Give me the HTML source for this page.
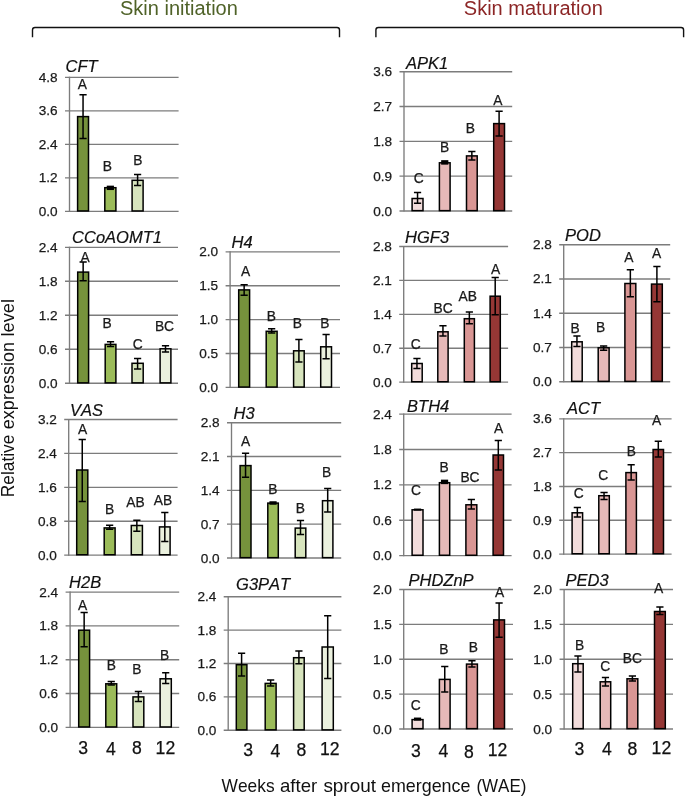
<!DOCTYPE html>
<html><head><meta charset="utf-8"><title>Figure</title>
<style>html,body{margin:0;padding:0;background:#fff;}svg{display:block;will-change:transform;}text{font-family:"Liberation Sans",sans-serif;font-kerning:none;}</style>
</head><body>
<svg width="685" height="796" viewBox="0 0 685 796">
<rect x="0" y="0" width="685" height="796" fill="#ffffff"/>
<text x="120.0" y="15.0" font-size="20" fill="#4F6228">Skin initiation</text>
<text x="463.8" y="15.0" font-size="20" fill="#8C2626">Skin maturation</text>
<path d="M32.5,37.35 L32.5,30.05 Q32.5,27.55 35.0,27.55 L337.0,27.55 Q339.5,27.55 339.5,30.05 L339.5,37.35" fill="none" stroke="#111" stroke-width="1.4"/>
<path d="M375.9,37.35 L375.9,30.05 Q375.9,27.55 378.4,27.55 L681.1,27.55 Q683.6,27.55 683.6,30.05 L683.6,37.35" fill="none" stroke="#111" stroke-width="1.4"/>
<g id="CFT">
<line x1="65.00" y1="77.30" x2="178.60" y2="77.30" stroke="#7c7c7c" stroke-width="1.35"/>
<text x="57.60" y="81.80" font-size="13.6" text-anchor="end" fill="#1a1a1a" stroke="#1a1a1a" stroke-width="0.25">4.8</text>
<line x1="65.00" y1="110.80" x2="178.60" y2="110.80" stroke="#7c7c7c" stroke-width="1.35"/>
<text x="57.60" y="115.30" font-size="13.6" text-anchor="end" fill="#1a1a1a" stroke="#1a1a1a" stroke-width="0.25">3.6</text>
<line x1="65.00" y1="144.30" x2="178.60" y2="144.30" stroke="#7c7c7c" stroke-width="1.35"/>
<text x="57.60" y="148.80" font-size="13.6" text-anchor="end" fill="#1a1a1a" stroke="#1a1a1a" stroke-width="0.25">2.4</text>
<line x1="65.00" y1="177.80" x2="178.60" y2="177.80" stroke="#7c7c7c" stroke-width="1.35"/>
<text x="57.60" y="182.30" font-size="13.6" text-anchor="end" fill="#1a1a1a" stroke="#1a1a1a" stroke-width="0.25">1.2</text>
<line x1="65.00" y1="211.30" x2="178.60" y2="211.30" stroke="#7c7c7c" stroke-width="1.35"/>
<text x="57.60" y="215.80" font-size="13.6" text-anchor="end" fill="#1a1a1a" stroke="#1a1a1a" stroke-width="0.25">0.0</text>
<line x1="69.50" y1="76.70" x2="69.50" y2="211.90" stroke="#7c7c7c" stroke-width="1.35"/>
<text x="65.50" y="71.50" font-size="16.5" font-style="italic" fill="#111" stroke="#111" stroke-width="0.2">CFT</text>
<rect x="77.60" y="116.60" width="10.90" height="94.35" fill="#76923C" stroke="#000" stroke-width="1.5"/>
<path d="M83.05,94.70 L83.05,138.50 M79.45,94.70 L86.65,94.70 M79.45,138.50 L86.65,138.50" stroke="#000" stroke-width="1.5" fill="none"/>
<rect x="104.80" y="187.70" width="11.10" height="23.25" fill="#9BBB59" stroke="#000" stroke-width="1.5"/>
<rect x="106.75" y="185.65" width="7.2" height="4.40" fill="#000"/>
<rect x="132.10" y="180.30" width="11.00" height="30.65" fill="#D7E4BD" stroke="#000" stroke-width="1.5"/>
<path d="M137.60,174.50 L137.60,185.50 M134.00,174.50 L141.20,174.50 M134.00,185.50 L141.20,185.50" stroke="#000" stroke-width="1.5" fill="none"/>
<text x="82.30" y="89.30" font-size="13.8" text-anchor="middle" fill="#1a1a1a" stroke="#1a1a1a" stroke-width="0.25">A</text>
<text x="107.40" y="171.30" font-size="13.8" text-anchor="middle" fill="#1a1a1a" stroke="#1a1a1a" stroke-width="0.25">B</text>
<text x="137.80" y="165.00" font-size="13.8" text-anchor="middle" fill="#1a1a1a" stroke="#1a1a1a" stroke-width="0.25">B</text>
</g>
<g id="CCoAOMT1">
<line x1="65.00" y1="247.30" x2="178.00" y2="247.30" stroke="#7c7c7c" stroke-width="1.35"/>
<text x="57.60" y="251.80" font-size="13.6" text-anchor="end" fill="#1a1a1a" stroke="#1a1a1a" stroke-width="0.25">2.4</text>
<line x1="65.00" y1="281.27" x2="178.00" y2="281.27" stroke="#7c7c7c" stroke-width="1.35"/>
<text x="57.60" y="285.77" font-size="13.6" text-anchor="end" fill="#1a1a1a" stroke="#1a1a1a" stroke-width="0.25">1.8</text>
<line x1="65.00" y1="315.25" x2="178.00" y2="315.25" stroke="#7c7c7c" stroke-width="1.35"/>
<text x="57.60" y="319.75" font-size="13.6" text-anchor="end" fill="#1a1a1a" stroke="#1a1a1a" stroke-width="0.25">1.2</text>
<line x1="65.00" y1="349.23" x2="178.00" y2="349.23" stroke="#7c7c7c" stroke-width="1.35"/>
<text x="57.60" y="353.73" font-size="13.6" text-anchor="end" fill="#1a1a1a" stroke="#1a1a1a" stroke-width="0.25">0.6</text>
<line x1="65.00" y1="383.20" x2="178.00" y2="383.20" stroke="#7c7c7c" stroke-width="1.35"/>
<text x="57.60" y="387.70" font-size="13.6" text-anchor="end" fill="#1a1a1a" stroke="#1a1a1a" stroke-width="0.25">0.0</text>
<line x1="69.50" y1="246.70" x2="69.50" y2="383.80" stroke="#7c7c7c" stroke-width="1.35"/>
<text x="72.10" y="243.10" font-size="16.5" font-style="italic" fill="#111" stroke="#111" stroke-width="0.2">CCoAOMT1</text>
<rect x="77.70" y="272.10" width="10.90" height="110.75" fill="#76923C" stroke="#000" stroke-width="1.5"/>
<path d="M83.15,262.10 L83.15,280.80 M79.55,262.10 L86.75,262.10 M79.55,280.80 L86.75,280.80" stroke="#000" stroke-width="1.5" fill="none"/>
<rect x="105.20" y="344.40" width="10.70" height="38.45" fill="#9BBB59" stroke="#000" stroke-width="1.5"/>
<path d="M110.55,341.70 L110.55,346.50 M106.95,341.70 L114.15,341.70 M106.95,346.50 L114.15,346.50" stroke="#000" stroke-width="1.5" fill="none"/>
<rect x="132.00" y="363.30" width="11.20" height="19.55" fill="#D7E4BD" stroke="#000" stroke-width="1.5"/>
<path d="M137.60,358.60 L137.60,369.00 M134.00,358.60 L141.20,358.60 M134.00,369.00 L141.20,369.00" stroke="#000" stroke-width="1.5" fill="none"/>
<rect x="160.10" y="348.80" width="10.80" height="34.05" fill="#EBF1DE" stroke="#000" stroke-width="1.5"/>
<path d="M165.50,345.70 L165.50,352.00 M161.90,345.70 L169.10,345.70 M161.90,352.00 L169.10,352.00" stroke="#000" stroke-width="1.5" fill="none"/>
<text x="85.10" y="262.10" font-size="13.8" text-anchor="middle" fill="#1a1a1a" stroke="#1a1a1a" stroke-width="0.25">A</text>
<text x="107.20" y="327.80" font-size="13.8" text-anchor="middle" fill="#1a1a1a" stroke="#1a1a1a" stroke-width="0.25">B</text>
<text x="137.80" y="348.90" font-size="13.8" text-anchor="middle" fill="#1a1a1a" stroke="#1a1a1a" stroke-width="0.25">C</text>
<text x="164.50" y="330.90" font-size="13.8" text-anchor="middle" fill="#1a1a1a" stroke="#1a1a1a" stroke-width="0.25">BC</text>
</g>
<g id="VAS">
<line x1="64.20" y1="419.50" x2="177.60" y2="419.50" stroke="#7c7c7c" stroke-width="1.35"/>
<text x="56.80" y="424.00" font-size="13.6" text-anchor="end" fill="#1a1a1a" stroke="#1a1a1a" stroke-width="0.25">3.2</text>
<line x1="64.20" y1="453.40" x2="177.60" y2="453.40" stroke="#7c7c7c" stroke-width="1.35"/>
<text x="56.80" y="457.90" font-size="13.6" text-anchor="end" fill="#1a1a1a" stroke="#1a1a1a" stroke-width="0.25">2.4</text>
<line x1="64.20" y1="487.30" x2="177.60" y2="487.30" stroke="#7c7c7c" stroke-width="1.35"/>
<text x="56.80" y="491.80" font-size="13.6" text-anchor="end" fill="#1a1a1a" stroke="#1a1a1a" stroke-width="0.25">1.6</text>
<line x1="64.20" y1="521.20" x2="177.60" y2="521.20" stroke="#7c7c7c" stroke-width="1.35"/>
<text x="56.80" y="525.70" font-size="13.6" text-anchor="end" fill="#1a1a1a" stroke="#1a1a1a" stroke-width="0.25">0.8</text>
<line x1="64.20" y1="555.10" x2="177.60" y2="555.10" stroke="#7c7c7c" stroke-width="1.35"/>
<text x="56.80" y="559.60" font-size="13.6" text-anchor="end" fill="#1a1a1a" stroke="#1a1a1a" stroke-width="0.25">0.0</text>
<line x1="68.70" y1="418.90" x2="68.70" y2="555.70" stroke="#7c7c7c" stroke-width="1.35"/>
<text x="70.10" y="415.70" font-size="16.5" font-style="italic" fill="#111" stroke="#111" stroke-width="0.2">VAS</text>
<rect x="76.70" y="470.00" width="11.10" height="84.75" fill="#76923C" stroke="#000" stroke-width="1.5"/>
<path d="M82.25,439.60 L82.25,501.40 M78.65,439.60 L85.85,439.60 M78.65,501.40 L85.85,501.40" stroke="#000" stroke-width="1.5" fill="none"/>
<rect x="104.20" y="527.90" width="10.90" height="26.85" fill="#9BBB59" stroke="#000" stroke-width="1.5"/>
<path d="M109.65,525.20 L109.65,529.20 M106.05,525.20 L113.25,525.20 M106.05,529.20 L113.25,529.20" stroke="#000" stroke-width="1.5" fill="none"/>
<rect x="131.30" y="525.50" width="11.10" height="29.25" fill="#D7E4BD" stroke="#000" stroke-width="1.5"/>
<path d="M136.85,520.30 L136.85,531.20 M133.25,520.30 L140.45,520.30 M133.25,531.20 L140.45,531.20" stroke="#000" stroke-width="1.5" fill="none"/>
<rect x="159.50" y="526.90" width="10.60" height="27.85" fill="#EBF1DE" stroke="#000" stroke-width="1.5"/>
<path d="M164.80,512.50 L164.80,541.60 M161.20,512.50 L168.40,512.50 M161.20,541.60 L168.40,541.60" stroke="#000" stroke-width="1.5" fill="none"/>
<text x="82.50" y="434.10" font-size="13.8" text-anchor="middle" fill="#1a1a1a" stroke="#1a1a1a" stroke-width="0.25">A</text>
<text x="109.70" y="513.50" font-size="13.8" text-anchor="middle" fill="#1a1a1a" stroke="#1a1a1a" stroke-width="0.25">B</text>
<text x="135.40" y="506.90" font-size="13.8" text-anchor="middle" fill="#1a1a1a" stroke="#1a1a1a" stroke-width="0.25">AB</text>
<text x="162.90" y="505.30" font-size="13.8" text-anchor="middle" fill="#1a1a1a" stroke="#1a1a1a" stroke-width="0.25">AB</text>
</g>
<g id="H2B">
<line x1="65.60" y1="592.10" x2="179.20" y2="592.10" stroke="#7c7c7c" stroke-width="1.35"/>
<text x="58.20" y="596.60" font-size="13.6" text-anchor="end" fill="#1a1a1a" stroke="#1a1a1a" stroke-width="0.25">2.4</text>
<line x1="65.60" y1="625.90" x2="179.20" y2="625.90" stroke="#7c7c7c" stroke-width="1.35"/>
<text x="58.20" y="630.40" font-size="13.6" text-anchor="end" fill="#1a1a1a" stroke="#1a1a1a" stroke-width="0.25">1.8</text>
<line x1="65.60" y1="659.70" x2="179.20" y2="659.70" stroke="#7c7c7c" stroke-width="1.35"/>
<text x="58.20" y="664.20" font-size="13.6" text-anchor="end" fill="#1a1a1a" stroke="#1a1a1a" stroke-width="0.25">1.2</text>
<line x1="65.60" y1="693.50" x2="179.20" y2="693.50" stroke="#7c7c7c" stroke-width="1.35"/>
<text x="58.20" y="698.00" font-size="13.6" text-anchor="end" fill="#1a1a1a" stroke="#1a1a1a" stroke-width="0.25">0.6</text>
<line x1="65.60" y1="727.30" x2="179.20" y2="727.30" stroke="#7c7c7c" stroke-width="1.35"/>
<text x="58.20" y="731.80" font-size="13.6" text-anchor="end" fill="#1a1a1a" stroke="#1a1a1a" stroke-width="0.25">0.0</text>
<line x1="70.10" y1="591.50" x2="70.10" y2="727.90" stroke="#7c7c7c" stroke-width="1.35"/>
<text x="69.10" y="588.20" font-size="16.5" font-style="italic" fill="#111" stroke="#111" stroke-width="0.2">H2B</text>
<rect x="78.70" y="630.20" width="10.90" height="96.75" fill="#76923C" stroke="#000" stroke-width="1.5"/>
<path d="M84.15,612.60 L84.15,646.70 M80.55,612.60 L87.75,612.60 M80.55,646.70 L87.75,646.70" stroke="#000" stroke-width="1.5" fill="none"/>
<rect x="105.80" y="683.80" width="10.90" height="43.15" fill="#9BBB59" stroke="#000" stroke-width="1.5"/>
<path d="M111.25,681.50 L111.25,685.10 M107.65,681.50 L114.85,681.50 M107.65,685.10 L114.85,685.10" stroke="#000" stroke-width="1.5" fill="none"/>
<rect x="133.00" y="696.90" width="10.80" height="30.05" fill="#D7E4BD" stroke="#000" stroke-width="1.5"/>
<path d="M138.40,691.50 L138.40,701.60 M134.80,691.50 L142.00,691.50 M134.80,701.60 L142.00,701.60" stroke="#000" stroke-width="1.5" fill="none"/>
<rect x="160.10" y="678.80" width="11.20" height="48.15" fill="#EBF1DE" stroke="#000" stroke-width="1.5"/>
<path d="M165.70,672.80 L165.70,683.50 M162.10,672.80 L169.30,672.80 M162.10,683.50 L169.30,683.50" stroke="#000" stroke-width="1.5" fill="none"/>
<text x="82.50" y="610.00" font-size="13.8" text-anchor="middle" fill="#1a1a1a" stroke="#1a1a1a" stroke-width="0.25">A</text>
<text x="111.30" y="669.80" font-size="13.8" text-anchor="middle" fill="#1a1a1a" stroke="#1a1a1a" stroke-width="0.25">B</text>
<text x="136.80" y="674.40" font-size="13.8" text-anchor="middle" fill="#1a1a1a" stroke="#1a1a1a" stroke-width="0.25">B</text>
<text x="164.50" y="659.80" font-size="13.8" text-anchor="middle" fill="#1a1a1a" stroke="#1a1a1a" stroke-width="0.25">B</text>
</g>
<g id="H4">
<line x1="225.60" y1="251.90" x2="340.00" y2="251.90" stroke="#7c7c7c" stroke-width="1.35"/>
<text x="218.20" y="256.40" font-size="13.6" text-anchor="end" fill="#1a1a1a" stroke="#1a1a1a" stroke-width="0.25">2.0</text>
<line x1="225.60" y1="285.77" x2="340.00" y2="285.77" stroke="#7c7c7c" stroke-width="1.35"/>
<text x="218.20" y="290.27" font-size="13.6" text-anchor="end" fill="#1a1a1a" stroke="#1a1a1a" stroke-width="0.25">1.5</text>
<line x1="225.60" y1="319.65" x2="340.00" y2="319.65" stroke="#7c7c7c" stroke-width="1.35"/>
<text x="218.20" y="324.15" font-size="13.6" text-anchor="end" fill="#1a1a1a" stroke="#1a1a1a" stroke-width="0.25">1.0</text>
<line x1="225.60" y1="353.52" x2="340.00" y2="353.52" stroke="#7c7c7c" stroke-width="1.35"/>
<text x="218.20" y="358.02" font-size="13.6" text-anchor="end" fill="#1a1a1a" stroke="#1a1a1a" stroke-width="0.25">0.5</text>
<line x1="225.60" y1="387.40" x2="340.00" y2="387.40" stroke="#7c7c7c" stroke-width="1.35"/>
<text x="218.20" y="391.90" font-size="13.6" text-anchor="end" fill="#1a1a1a" stroke="#1a1a1a" stroke-width="0.25">0.0</text>
<line x1="230.10" y1="251.30" x2="230.10" y2="388.00" stroke="#7c7c7c" stroke-width="1.35"/>
<text x="231.50" y="248.10" font-size="16.5" font-style="italic" fill="#111" stroke="#111" stroke-width="0.2">H4</text>
<rect x="238.70" y="289.90" width="10.90" height="97.15" fill="#76923C" stroke="#000" stroke-width="1.5"/>
<path d="M244.15,284.80 L244.15,295.30 M240.55,284.80 L247.75,284.80 M240.55,295.30 L247.75,295.30" stroke="#000" stroke-width="1.5" fill="none"/>
<rect x="266.20" y="331.30" width="10.90" height="55.75" fill="#9BBB59" stroke="#000" stroke-width="1.5"/>
<path d="M271.65,328.80 L271.65,333.00 M268.05,328.80 L275.25,328.80 M268.05,333.00 L275.25,333.00" stroke="#000" stroke-width="1.5" fill="none"/>
<rect x="293.60" y="350.80" width="10.60" height="36.25" fill="#D7E4BD" stroke="#000" stroke-width="1.5"/>
<path d="M298.90,339.50 L298.90,362.00 M295.30,339.50 L302.50,339.50 M295.30,362.00 L302.50,362.00" stroke="#000" stroke-width="1.5" fill="none"/>
<rect x="320.70" y="346.80" width="10.80" height="40.25" fill="#EBF1DE" stroke="#000" stroke-width="1.5"/>
<path d="M326.10,334.60 L326.10,358.80 M322.50,334.60 L329.70,334.60 M322.50,358.80 L329.70,358.80" stroke="#000" stroke-width="1.5" fill="none"/>
<text x="245.50" y="275.60" font-size="13.8" text-anchor="middle" fill="#1a1a1a" stroke="#1a1a1a" stroke-width="0.25">A</text>
<text x="271.30" y="320.80" font-size="13.8" text-anchor="middle" fill="#1a1a1a" stroke="#1a1a1a" stroke-width="0.25">B</text>
<text x="297.40" y="328.20" font-size="13.8" text-anchor="middle" fill="#1a1a1a" stroke="#1a1a1a" stroke-width="0.25">B</text>
<text x="324.90" y="328.20" font-size="13.8" text-anchor="middle" fill="#1a1a1a" stroke="#1a1a1a" stroke-width="0.25">B</text>
</g>
<g id="H3">
<line x1="227.00" y1="422.70" x2="341.20" y2="422.70" stroke="#7c7c7c" stroke-width="1.35"/>
<text x="219.60" y="427.20" font-size="13.6" text-anchor="end" fill="#1a1a1a" stroke="#1a1a1a" stroke-width="0.25">2.8</text>
<line x1="227.00" y1="456.52" x2="341.20" y2="456.52" stroke="#7c7c7c" stroke-width="1.35"/>
<text x="219.60" y="461.02" font-size="13.6" text-anchor="end" fill="#1a1a1a" stroke="#1a1a1a" stroke-width="0.25">2.1</text>
<line x1="227.00" y1="490.35" x2="341.20" y2="490.35" stroke="#7c7c7c" stroke-width="1.35"/>
<text x="219.60" y="494.85" font-size="13.6" text-anchor="end" fill="#1a1a1a" stroke="#1a1a1a" stroke-width="0.25">1.4</text>
<line x1="227.00" y1="524.17" x2="341.20" y2="524.17" stroke="#7c7c7c" stroke-width="1.35"/>
<text x="219.60" y="528.67" font-size="13.6" text-anchor="end" fill="#1a1a1a" stroke="#1a1a1a" stroke-width="0.25">0.7</text>
<line x1="227.00" y1="558.00" x2="341.20" y2="558.00" stroke="#7c7c7c" stroke-width="1.35"/>
<text x="219.60" y="562.50" font-size="13.6" text-anchor="end" fill="#1a1a1a" stroke="#1a1a1a" stroke-width="0.25">0.0</text>
<line x1="231.50" y1="422.10" x2="231.50" y2="558.60" stroke="#7c7c7c" stroke-width="1.35"/>
<text x="233.50" y="418.70" font-size="16.5" font-style="italic" fill="#111" stroke="#111" stroke-width="0.2">H3</text>
<rect x="240.10" y="465.60" width="10.90" height="92.05" fill="#76923C" stroke="#000" stroke-width="1.5"/>
<path d="M245.55,453.20 L245.55,477.30 M241.95,453.20 L249.15,453.20 M241.95,477.30 L249.15,477.30" stroke="#000" stroke-width="1.5" fill="none"/>
<rect x="267.80" y="503.10" width="10.50" height="54.55" fill="#9BBB59" stroke="#000" stroke-width="1.5"/>
<rect x="269.45" y="501.25" width="7.2" height="3.50" fill="#000"/>
<rect x="295.20" y="528.10" width="10.60" height="29.55" fill="#D7E4BD" stroke="#000" stroke-width="1.5"/>
<path d="M300.50,520.50 L300.50,534.60 M296.90,520.50 L304.10,520.50 M296.90,534.60 L304.10,534.60" stroke="#000" stroke-width="1.5" fill="none"/>
<rect x="322.50" y="500.70" width="10.40" height="56.95" fill="#EBF1DE" stroke="#000" stroke-width="1.5"/>
<path d="M327.70,488.40 L327.70,512.10 M324.10,488.40 L331.30,488.40 M324.10,512.10 L331.30,512.10" stroke="#000" stroke-width="1.5" fill="none"/>
<text x="245.50" y="446.20" font-size="13.8" text-anchor="middle" fill="#1a1a1a" stroke="#1a1a1a" stroke-width="0.25">A</text>
<text x="272.90" y="493.80" font-size="13.8" text-anchor="middle" fill="#1a1a1a" stroke="#1a1a1a" stroke-width="0.25">B</text>
<text x="300.40" y="513.30" font-size="13.8" text-anchor="middle" fill="#1a1a1a" stroke="#1a1a1a" stroke-width="0.25">B</text>
<text x="326.50" y="477.30" font-size="13.8" text-anchor="middle" fill="#1a1a1a" stroke="#1a1a1a" stroke-width="0.25">B</text>
</g>
<g id="G3PAT">
<line x1="223.70" y1="596.70" x2="341.40" y2="596.70" stroke="#7c7c7c" stroke-width="1.35"/>
<text x="216.30" y="601.20" font-size="13.6" text-anchor="end" fill="#1a1a1a" stroke="#1a1a1a" stroke-width="0.25">2.4</text>
<line x1="223.70" y1="630.08" x2="341.40" y2="630.08" stroke="#7c7c7c" stroke-width="1.35"/>
<text x="216.30" y="634.58" font-size="13.6" text-anchor="end" fill="#1a1a1a" stroke="#1a1a1a" stroke-width="0.25">1.8</text>
<line x1="223.70" y1="663.45" x2="341.40" y2="663.45" stroke="#7c7c7c" stroke-width="1.35"/>
<text x="216.30" y="667.95" font-size="13.6" text-anchor="end" fill="#1a1a1a" stroke="#1a1a1a" stroke-width="0.25">1.2</text>
<line x1="223.70" y1="696.83" x2="341.40" y2="696.83" stroke="#7c7c7c" stroke-width="1.35"/>
<text x="216.30" y="701.33" font-size="13.6" text-anchor="end" fill="#1a1a1a" stroke="#1a1a1a" stroke-width="0.25">0.6</text>
<line x1="223.70" y1="730.20" x2="341.40" y2="730.20" stroke="#7c7c7c" stroke-width="1.35"/>
<text x="216.30" y="734.70" font-size="13.6" text-anchor="end" fill="#1a1a1a" stroke="#1a1a1a" stroke-width="0.25">0.0</text>
<line x1="228.20" y1="596.10" x2="228.20" y2="730.80" stroke="#7c7c7c" stroke-width="1.35"/>
<text x="236.10" y="590.30" font-size="16.5" font-style="italic" fill="#111" stroke="#111" stroke-width="0.2">G3PAT</text>
<rect x="236.30" y="664.70" width="10.60" height="65.15" fill="#76923C" stroke="#000" stroke-width="1.5"/>
<path d="M241.60,653.30 L241.60,676.00 M238.00,653.30 L245.20,653.30 M238.00,676.00 L245.20,676.00" stroke="#000" stroke-width="1.5" fill="none"/>
<rect x="265.20" y="683.40" width="10.90" height="46.45" fill="#9BBB59" stroke="#000" stroke-width="1.5"/>
<path d="M270.65,679.90 L270.65,686.10 M267.05,679.90 L274.25,679.90 M267.05,686.10 L274.25,686.10" stroke="#000" stroke-width="1.5" fill="none"/>
<rect x="293.60" y="657.70" width="10.60" height="72.15" fill="#D7E4BD" stroke="#000" stroke-width="1.5"/>
<path d="M298.90,650.90 L298.90,663.80 M295.30,650.90 L302.50,650.90 M295.30,663.80 L302.50,663.80" stroke="#000" stroke-width="1.5" fill="none"/>
<rect x="322.10" y="647.00" width="11.20" height="82.85" fill="#EBF1DE" stroke="#000" stroke-width="1.5"/>
<path d="M327.70,615.80 L327.70,678.50 M324.10,615.80 L331.30,615.80 M324.10,678.50 L331.30,678.50" stroke="#000" stroke-width="1.5" fill="none"/>
</g>
<g id="APK1">
<line x1="399.50" y1="71.70" x2="512.20" y2="71.70" stroke="#7c7c7c" stroke-width="1.35"/>
<text x="392.10" y="76.20" font-size="13.6" text-anchor="end" fill="#1a1a1a" stroke="#1a1a1a" stroke-width="0.25">3.6</text>
<line x1="399.50" y1="106.53" x2="512.20" y2="106.53" stroke="#7c7c7c" stroke-width="1.35"/>
<text x="392.10" y="111.03" font-size="13.6" text-anchor="end" fill="#1a1a1a" stroke="#1a1a1a" stroke-width="0.25">2.7</text>
<line x1="399.50" y1="141.35" x2="512.20" y2="141.35" stroke="#7c7c7c" stroke-width="1.35"/>
<text x="392.10" y="145.85" font-size="13.6" text-anchor="end" fill="#1a1a1a" stroke="#1a1a1a" stroke-width="0.25">1.8</text>
<line x1="399.50" y1="176.18" x2="512.20" y2="176.18" stroke="#7c7c7c" stroke-width="1.35"/>
<text x="392.10" y="180.68" font-size="13.6" text-anchor="end" fill="#1a1a1a" stroke="#1a1a1a" stroke-width="0.25">0.9</text>
<line x1="399.50" y1="211.00" x2="512.20" y2="211.00" stroke="#7c7c7c" stroke-width="1.35"/>
<text x="392.10" y="215.50" font-size="13.6" text-anchor="end" fill="#1a1a1a" stroke="#1a1a1a" stroke-width="0.25">0.0</text>
<line x1="404.00" y1="71.10" x2="404.00" y2="211.60" stroke="#7c7c7c" stroke-width="1.35"/>
<text x="406.10" y="69.00" font-size="16.5" font-style="italic" fill="#111" stroke="#111" stroke-width="0.2">APK1</text>
<rect x="412.10" y="198.50" width="10.90" height="12.15" fill="#F2DCDB" stroke="#000" stroke-width="1.5"/>
<path d="M417.55,192.60 L417.55,203.30 M413.95,192.60 L421.15,192.60 M413.95,203.30 L421.15,203.30" stroke="#000" stroke-width="1.5" fill="none"/>
<rect x="439.40" y="162.80" width="10.70" height="47.85" fill="#E6B9B8" stroke="#000" stroke-width="1.5"/>
<rect x="441.15" y="160.15" width="7.2" height="4.50" fill="#000"/>
<rect x="466.50" y="155.90" width="10.70" height="54.75" fill="#D99694" stroke="#000" stroke-width="1.5"/>
<path d="M471.85,151.60 L471.85,160.10 M468.25,151.60 L475.45,151.60 M468.25,160.10 L475.45,160.10" stroke="#000" stroke-width="1.5" fill="none"/>
<rect x="493.70" y="123.60" width="10.80" height="87.05" fill="#953735" stroke="#000" stroke-width="1.5"/>
<path d="M499.10,111.20 L499.10,135.90 M495.50,111.20 L502.70,111.20 M495.50,135.90 L502.70,135.90" stroke="#000" stroke-width="1.5" fill="none"/>
<text x="418.70" y="183.00" font-size="13.8" text-anchor="middle" fill="#1a1a1a" stroke="#1a1a1a" stroke-width="0.25">C</text>
<text x="444.70" y="151.80" font-size="13.8" text-anchor="middle" fill="#1a1a1a" stroke="#1a1a1a" stroke-width="0.25">B</text>
<text x="470.40" y="133.10" font-size="13.8" text-anchor="middle" fill="#1a1a1a" stroke="#1a1a1a" stroke-width="0.25">B</text>
<text x="497.90" y="104.60" font-size="13.8" text-anchor="middle" fill="#1a1a1a" stroke="#1a1a1a" stroke-width="0.25">A</text>
</g>
<g id="HGF3">
<line x1="399.20" y1="246.50" x2="508.10" y2="246.50" stroke="#7c7c7c" stroke-width="1.35"/>
<text x="391.80" y="251.00" font-size="13.6" text-anchor="end" fill="#1a1a1a" stroke="#1a1a1a" stroke-width="0.25">2.8</text>
<line x1="399.20" y1="280.40" x2="508.10" y2="280.40" stroke="#7c7c7c" stroke-width="1.35"/>
<text x="391.80" y="284.90" font-size="13.6" text-anchor="end" fill="#1a1a1a" stroke="#1a1a1a" stroke-width="0.25">2.1</text>
<line x1="399.20" y1="314.30" x2="508.10" y2="314.30" stroke="#7c7c7c" stroke-width="1.35"/>
<text x="391.80" y="318.80" font-size="13.6" text-anchor="end" fill="#1a1a1a" stroke="#1a1a1a" stroke-width="0.25">1.4</text>
<line x1="399.20" y1="348.20" x2="508.10" y2="348.20" stroke="#7c7c7c" stroke-width="1.35"/>
<text x="391.80" y="352.70" font-size="13.6" text-anchor="end" fill="#1a1a1a" stroke="#1a1a1a" stroke-width="0.25">0.7</text>
<line x1="399.20" y1="382.10" x2="508.10" y2="382.10" stroke="#7c7c7c" stroke-width="1.35"/>
<text x="391.80" y="386.60" font-size="13.6" text-anchor="end" fill="#1a1a1a" stroke="#1a1a1a" stroke-width="0.25">0.0</text>
<line x1="403.70" y1="245.90" x2="403.70" y2="382.70" stroke="#7c7c7c" stroke-width="1.35"/>
<text x="405.10" y="243.20" font-size="16.5" font-style="italic" fill="#111" stroke="#111" stroke-width="0.2">HGF3</text>
<rect x="411.70" y="363.50" width="10.50" height="18.25" fill="#F2DCDB" stroke="#000" stroke-width="1.5"/>
<path d="M416.95,358.60 L416.95,368.60 M413.35,358.60 L420.55,358.60 M413.35,368.60 L420.55,368.60" stroke="#000" stroke-width="1.5" fill="none"/>
<rect x="437.80" y="331.80" width="10.30" height="49.95" fill="#E6B9B8" stroke="#000" stroke-width="1.5"/>
<path d="M442.95,325.80 L442.95,335.90 M439.35,325.80 L446.55,325.80 M439.35,335.90 L446.55,335.90" stroke="#000" stroke-width="1.5" fill="none"/>
<rect x="464.30" y="318.70" width="10.10" height="63.05" fill="#D99694" stroke="#000" stroke-width="1.5"/>
<path d="M469.35,312.00 L469.35,323.80 M465.75,312.00 L472.95,312.00 M465.75,323.80 L472.95,323.80" stroke="#000" stroke-width="1.5" fill="none"/>
<rect x="490.10" y="296.20" width="10.20" height="85.55" fill="#953735" stroke="#000" stroke-width="1.5"/>
<path d="M495.20,277.60 L495.20,314.80 M491.60,277.60 L498.80,277.60 M491.60,314.80 L498.80,314.80" stroke="#000" stroke-width="1.5" fill="none"/>
<text x="415.70" y="348.50" font-size="13.8" text-anchor="middle" fill="#1a1a1a" stroke="#1a1a1a" stroke-width="0.25">C</text>
<text x="443.20" y="313.20" font-size="13.8" text-anchor="middle" fill="#1a1a1a" stroke="#1a1a1a" stroke-width="0.25">BC</text>
<text x="467.80" y="301.10" font-size="13.8" text-anchor="middle" fill="#1a1a1a" stroke="#1a1a1a" stroke-width="0.25">AB</text>
<text x="495.50" y="273.60" font-size="13.8" text-anchor="middle" fill="#1a1a1a" stroke="#1a1a1a" stroke-width="0.25">A</text>
</g>
<g id="BTH4">
<line x1="399.20" y1="414.10" x2="511.60" y2="414.10" stroke="#7c7c7c" stroke-width="1.35"/>
<text x="391.80" y="418.60" font-size="13.6" text-anchor="end" fill="#1a1a1a" stroke="#1a1a1a" stroke-width="0.25">2.4</text>
<line x1="399.20" y1="449.48" x2="511.60" y2="449.48" stroke="#7c7c7c" stroke-width="1.35"/>
<text x="391.80" y="453.98" font-size="13.6" text-anchor="end" fill="#1a1a1a" stroke="#1a1a1a" stroke-width="0.25">1.8</text>
<line x1="399.20" y1="484.85" x2="511.60" y2="484.85" stroke="#7c7c7c" stroke-width="1.35"/>
<text x="391.80" y="489.35" font-size="13.6" text-anchor="end" fill="#1a1a1a" stroke="#1a1a1a" stroke-width="0.25">1.2</text>
<line x1="399.20" y1="520.23" x2="511.60" y2="520.23" stroke="#7c7c7c" stroke-width="1.35"/>
<text x="391.80" y="524.73" font-size="13.6" text-anchor="end" fill="#1a1a1a" stroke="#1a1a1a" stroke-width="0.25">0.6</text>
<line x1="399.20" y1="555.60" x2="511.60" y2="555.60" stroke="#7c7c7c" stroke-width="1.35"/>
<text x="391.80" y="560.10" font-size="13.6" text-anchor="end" fill="#1a1a1a" stroke="#1a1a1a" stroke-width="0.25">0.0</text>
<line x1="403.70" y1="413.50" x2="403.70" y2="556.20" stroke="#7c7c7c" stroke-width="1.35"/>
<text x="407.10" y="411.80" font-size="16.5" font-style="italic" fill="#111" stroke="#111" stroke-width="0.2">BTH4</text>
<rect x="412.10" y="509.80" width="10.90" height="45.45" fill="#F2DCDB" stroke="#000" stroke-width="1.5"/>
<rect x="413.95" y="508.55" width="7.2" height="2.10" fill="#000"/>
<rect x="439.40" y="482.70" width="10.30" height="72.55" fill="#E6B9B8" stroke="#000" stroke-width="1.5"/>
<rect x="440.95" y="479.65" width="7.2" height="4.50" fill="#000"/>
<rect x="465.90" y="504.80" width="10.90" height="50.45" fill="#D99694" stroke="#000" stroke-width="1.5"/>
<path d="M471.35,499.50 L471.35,509.10 M467.75,499.50 L474.95,499.50 M467.75,509.10 L474.95,509.10" stroke="#000" stroke-width="1.5" fill="none"/>
<rect x="493.10" y="455.00" width="10.40" height="100.25" fill="#953735" stroke="#000" stroke-width="1.5"/>
<path d="M498.30,440.60 L498.30,469.90 M494.70,440.60 L501.90,440.60 M494.70,469.90 L501.90,469.90" stroke="#000" stroke-width="1.5" fill="none"/>
<text x="416.10" y="494.80" font-size="13.8" text-anchor="middle" fill="#1a1a1a" stroke="#1a1a1a" stroke-width="0.25">C</text>
<text x="444.20" y="471.70" font-size="13.8" text-anchor="middle" fill="#1a1a1a" stroke="#1a1a1a" stroke-width="0.25">B</text>
<text x="470.00" y="482.40" font-size="13.8" text-anchor="middle" fill="#1a1a1a" stroke="#1a1a1a" stroke-width="0.25">BC</text>
<text x="498.50" y="432.50" font-size="13.8" text-anchor="middle" fill="#1a1a1a" stroke="#1a1a1a" stroke-width="0.25">A</text>
</g>
<g id="PHDZnP">
<line x1="399.20" y1="589.50" x2="513.00" y2="589.50" stroke="#7c7c7c" stroke-width="1.35"/>
<text x="391.80" y="594.00" font-size="13.6" text-anchor="end" fill="#1a1a1a" stroke="#1a1a1a" stroke-width="0.25">2.0</text>
<line x1="399.20" y1="624.38" x2="513.00" y2="624.38" stroke="#7c7c7c" stroke-width="1.35"/>
<text x="391.80" y="628.88" font-size="13.6" text-anchor="end" fill="#1a1a1a" stroke="#1a1a1a" stroke-width="0.25">1.5</text>
<line x1="399.20" y1="659.25" x2="513.00" y2="659.25" stroke="#7c7c7c" stroke-width="1.35"/>
<text x="391.80" y="663.75" font-size="13.6" text-anchor="end" fill="#1a1a1a" stroke="#1a1a1a" stroke-width="0.25">1.0</text>
<line x1="399.20" y1="694.12" x2="513.00" y2="694.12" stroke="#7c7c7c" stroke-width="1.35"/>
<text x="391.80" y="698.62" font-size="13.6" text-anchor="end" fill="#1a1a1a" stroke="#1a1a1a" stroke-width="0.25">0.5</text>
<line x1="399.20" y1="729.00" x2="513.00" y2="729.00" stroke="#7c7c7c" stroke-width="1.35"/>
<text x="391.80" y="733.50" font-size="13.6" text-anchor="end" fill="#1a1a1a" stroke="#1a1a1a" stroke-width="0.25">0.0</text>
<line x1="403.70" y1="588.90" x2="403.70" y2="729.60" stroke="#7c7c7c" stroke-width="1.35"/>
<text x="408.50" y="586.10" font-size="16.5" font-style="italic" fill="#111" stroke="#111" stroke-width="0.2">PHDZnP</text>
<rect x="412.10" y="719.60" width="10.90" height="9.05" fill="#F2DCDB" stroke="#000" stroke-width="1.5"/>
<rect x="413.95" y="717.55" width="7.2" height="3.10" fill="#000"/>
<rect x="439.40" y="679.40" width="10.70" height="49.25" fill="#E6B9B8" stroke="#000" stroke-width="1.5"/>
<path d="M444.75,666.40 L444.75,691.90 M441.15,666.40 L448.35,666.40 M441.15,691.90 L448.35,691.90" stroke="#000" stroke-width="1.5" fill="none"/>
<rect x="466.50" y="664.10" width="10.90" height="64.55" fill="#D99694" stroke="#000" stroke-width="1.5"/>
<path d="M471.95,660.80 L471.95,667.00 M468.35,660.80 L475.55,660.80 M468.35,667.00 L475.55,667.00" stroke="#000" stroke-width="1.5" fill="none"/>
<rect x="493.70" y="619.90" width="10.80" height="108.75" fill="#953735" stroke="#000" stroke-width="1.5"/>
<path d="M499.10,603.10 L499.10,637.30 M495.50,603.10 L502.70,603.10 M495.50,637.30 L502.70,637.30" stroke="#000" stroke-width="1.5" fill="none"/>
<text x="415.70" y="710.00" font-size="13.8" text-anchor="middle" fill="#1a1a1a" stroke="#1a1a1a" stroke-width="0.25">C</text>
<text x="443.80" y="654.20" font-size="13.8" text-anchor="middle" fill="#1a1a1a" stroke="#1a1a1a" stroke-width="0.25">B</text>
<text x="473.40" y="651.80" font-size="13.8" text-anchor="middle" fill="#1a1a1a" stroke="#1a1a1a" stroke-width="0.25">B</text>
<text x="499.50" y="596.50" font-size="13.8" text-anchor="middle" fill="#1a1a1a" stroke="#1a1a1a" stroke-width="0.25">A</text>
</g>
<g id="POD">
<line x1="559.20" y1="244.70" x2="670.20" y2="244.70" stroke="#7c7c7c" stroke-width="1.35"/>
<text x="551.80" y="249.20" font-size="13.6" text-anchor="end" fill="#1a1a1a" stroke="#1a1a1a" stroke-width="0.25">2.8</text>
<line x1="559.20" y1="278.95" x2="670.20" y2="278.95" stroke="#7c7c7c" stroke-width="1.35"/>
<text x="551.80" y="283.45" font-size="13.6" text-anchor="end" fill="#1a1a1a" stroke="#1a1a1a" stroke-width="0.25">2.1</text>
<line x1="559.20" y1="313.20" x2="670.20" y2="313.20" stroke="#7c7c7c" stroke-width="1.35"/>
<text x="551.80" y="317.70" font-size="13.6" text-anchor="end" fill="#1a1a1a" stroke="#1a1a1a" stroke-width="0.25">1.4</text>
<line x1="559.20" y1="347.45" x2="670.20" y2="347.45" stroke="#7c7c7c" stroke-width="1.35"/>
<text x="551.80" y="351.95" font-size="13.6" text-anchor="end" fill="#1a1a1a" stroke="#1a1a1a" stroke-width="0.25">0.7</text>
<line x1="559.20" y1="381.70" x2="670.20" y2="381.70" stroke="#7c7c7c" stroke-width="1.35"/>
<text x="551.80" y="386.20" font-size="13.6" text-anchor="end" fill="#1a1a1a" stroke="#1a1a1a" stroke-width="0.25">0.0</text>
<line x1="563.70" y1="244.10" x2="563.70" y2="382.30" stroke="#7c7c7c" stroke-width="1.35"/>
<text x="565.10" y="241.30" font-size="16.5" font-style="italic" fill="#111" stroke="#111" stroke-width="0.2">POD</text>
<rect x="571.70" y="341.80" width="10.50" height="39.55" fill="#F2DCDB" stroke="#000" stroke-width="1.5"/>
<path d="M576.95,336.10 L576.95,346.50 M573.35,336.10 L580.55,336.10 M573.35,346.50 L580.55,346.50" stroke="#000" stroke-width="1.5" fill="none"/>
<rect x="598.20" y="347.80" width="10.90" height="33.55" fill="#E6B9B8" stroke="#000" stroke-width="1.5"/>
<path d="M603.65,345.90 L603.65,350.20 M600.05,345.90 L607.25,345.90 M600.05,350.20 L607.25,350.20" stroke="#000" stroke-width="1.5" fill="none"/>
<rect x="624.90" y="283.50" width="10.90" height="97.85" fill="#D99694" stroke="#000" stroke-width="1.5"/>
<path d="M630.35,269.80 L630.35,296.70 M626.75,269.80 L633.95,269.80 M626.75,296.70 L633.95,296.70" stroke="#000" stroke-width="1.5" fill="none"/>
<rect x="651.50" y="284.10" width="10.80" height="97.25" fill="#953735" stroke="#000" stroke-width="1.5"/>
<path d="M656.90,266.60 L656.90,301.70 M653.30,266.60 L660.50,266.60 M653.30,301.70 L660.50,301.70" stroke="#000" stroke-width="1.5" fill="none"/>
<text x="575.10" y="332.50" font-size="13.8" text-anchor="middle" fill="#1a1a1a" stroke="#1a1a1a" stroke-width="0.25">B</text>
<text x="600.60" y="331.90" font-size="13.8" text-anchor="middle" fill="#1a1a1a" stroke="#1a1a1a" stroke-width="0.25">B</text>
<text x="628.80" y="261.90" font-size="13.8" text-anchor="middle" fill="#1a1a1a" stroke="#1a1a1a" stroke-width="0.25">A</text>
<text x="656.50" y="257.90" font-size="13.8" text-anchor="middle" fill="#1a1a1a" stroke="#1a1a1a" stroke-width="0.25">A</text>
</g>
<g id="ACT">
<line x1="559.20" y1="418.80" x2="671.60" y2="418.80" stroke="#7c7c7c" stroke-width="1.35"/>
<text x="551.80" y="423.30" font-size="13.6" text-anchor="end" fill="#1a1a1a" stroke="#1a1a1a" stroke-width="0.25">3.6</text>
<line x1="559.20" y1="452.62" x2="671.60" y2="452.62" stroke="#7c7c7c" stroke-width="1.35"/>
<text x="551.80" y="457.12" font-size="13.6" text-anchor="end" fill="#1a1a1a" stroke="#1a1a1a" stroke-width="0.25">2.7</text>
<line x1="559.20" y1="486.45" x2="671.60" y2="486.45" stroke="#7c7c7c" stroke-width="1.35"/>
<text x="551.80" y="490.95" font-size="13.6" text-anchor="end" fill="#1a1a1a" stroke="#1a1a1a" stroke-width="0.25">1.8</text>
<line x1="559.20" y1="520.27" x2="671.60" y2="520.27" stroke="#7c7c7c" stroke-width="1.35"/>
<text x="551.80" y="524.77" font-size="13.6" text-anchor="end" fill="#1a1a1a" stroke="#1a1a1a" stroke-width="0.25">0.9</text>
<line x1="559.20" y1="554.10" x2="671.60" y2="554.10" stroke="#7c7c7c" stroke-width="1.35"/>
<text x="551.80" y="558.60" font-size="13.6" text-anchor="end" fill="#1a1a1a" stroke="#1a1a1a" stroke-width="0.25">0.0</text>
<line x1="563.70" y1="418.20" x2="563.70" y2="554.70" stroke="#7c7c7c" stroke-width="1.35"/>
<text x="567.10" y="414.20" font-size="16.5" font-style="italic" fill="#111" stroke="#111" stroke-width="0.2">ACT</text>
<rect x="572.10" y="512.80" width="10.50" height="40.95" fill="#F2DCDB" stroke="#000" stroke-width="1.5"/>
<path d="M577.35,507.50 L577.35,516.90 M573.75,507.50 L580.95,507.50 M573.75,516.90 L580.95,516.90" stroke="#000" stroke-width="1.5" fill="none"/>
<rect x="598.80" y="495.70" width="10.50" height="58.05" fill="#E6B9B8" stroke="#000" stroke-width="1.5"/>
<path d="M604.05,492.40 L604.05,499.40 M600.45,492.40 L607.65,492.40 M600.45,499.40 L607.65,499.40" stroke="#000" stroke-width="1.5" fill="none"/>
<rect x="625.90" y="472.60" width="10.50" height="81.15" fill="#D99694" stroke="#000" stroke-width="1.5"/>
<path d="M631.15,464.70 L631.15,480.00 M627.55,464.70 L634.75,464.70 M627.55,480.00 L634.75,480.00" stroke="#000" stroke-width="1.5" fill="none"/>
<rect x="653.10" y="449.50" width="10.40" height="104.25" fill="#953735" stroke="#000" stroke-width="1.5"/>
<path d="M658.30,441.20 L658.30,456.90 M654.70,441.20 L661.90,441.20 M654.70,456.90 L661.90,456.90" stroke="#000" stroke-width="1.5" fill="none"/>
<text x="578.70" y="497.80" font-size="13.8" text-anchor="middle" fill="#1a1a1a" stroke="#1a1a1a" stroke-width="0.25">C</text>
<text x="603.20" y="480.40" font-size="13.8" text-anchor="middle" fill="#1a1a1a" stroke="#1a1a1a" stroke-width="0.25">C</text>
<text x="631.40" y="455.60" font-size="13.8" text-anchor="middle" fill="#1a1a1a" stroke="#1a1a1a" stroke-width="0.25">B</text>
<text x="656.50" y="425.10" font-size="13.8" text-anchor="middle" fill="#1a1a1a" stroke="#1a1a1a" stroke-width="0.25">A</text>
</g>
<g id="PED3">
<line x1="559.60" y1="589.50" x2="673.00" y2="589.50" stroke="#7c7c7c" stroke-width="1.35"/>
<text x="552.20" y="594.00" font-size="13.6" text-anchor="end" fill="#1a1a1a" stroke="#1a1a1a" stroke-width="0.25">2.0</text>
<line x1="559.60" y1="624.38" x2="673.00" y2="624.38" stroke="#7c7c7c" stroke-width="1.35"/>
<text x="552.20" y="628.88" font-size="13.6" text-anchor="end" fill="#1a1a1a" stroke="#1a1a1a" stroke-width="0.25">1.5</text>
<line x1="559.60" y1="659.25" x2="673.00" y2="659.25" stroke="#7c7c7c" stroke-width="1.35"/>
<text x="552.20" y="663.75" font-size="13.6" text-anchor="end" fill="#1a1a1a" stroke="#1a1a1a" stroke-width="0.25">1.0</text>
<line x1="559.60" y1="694.12" x2="673.00" y2="694.12" stroke="#7c7c7c" stroke-width="1.35"/>
<text x="552.20" y="698.62" font-size="13.6" text-anchor="end" fill="#1a1a1a" stroke="#1a1a1a" stroke-width="0.25">0.5</text>
<line x1="559.60" y1="729.00" x2="673.00" y2="729.00" stroke="#7c7c7c" stroke-width="1.35"/>
<text x="552.20" y="733.50" font-size="13.6" text-anchor="end" fill="#1a1a1a" stroke="#1a1a1a" stroke-width="0.25">0.0</text>
<line x1="564.10" y1="588.90" x2="564.10" y2="729.60" stroke="#7c7c7c" stroke-width="1.35"/>
<text x="565.50" y="585.70" font-size="16.5" font-style="italic" fill="#111" stroke="#111" stroke-width="0.2">PED3</text>
<rect x="572.70" y="663.70" width="10.50" height="64.95" fill="#F2DCDB" stroke="#000" stroke-width="1.5"/>
<path d="M577.95,656.00 L577.95,672.00 M574.35,656.00 L581.55,656.00 M574.35,672.00 L581.55,672.00" stroke="#000" stroke-width="1.5" fill="none"/>
<rect x="600.20" y="681.80" width="10.50" height="46.85" fill="#E6B9B8" stroke="#000" stroke-width="1.5"/>
<path d="M605.45,677.50 L605.45,686.10 M601.85,677.50 L609.05,677.50 M601.85,686.10 L609.05,686.10" stroke="#000" stroke-width="1.5" fill="none"/>
<rect x="627.00" y="678.80" width="10.80" height="49.85" fill="#D99694" stroke="#000" stroke-width="1.5"/>
<path d="M632.40,675.90 L632.40,680.90 M628.80,675.90 L636.00,675.90 M628.80,680.90 L636.00,680.90" stroke="#000" stroke-width="1.5" fill="none"/>
<rect x="654.50" y="611.50" width="10.80" height="117.15" fill="#953735" stroke="#000" stroke-width="1.5"/>
<path d="M659.90,607.10 L659.90,614.60 M656.30,607.10 L663.50,607.10 M656.30,614.60 L663.50,614.60" stroke="#000" stroke-width="1.5" fill="none"/>
<text x="579.50" y="649.70" font-size="13.8" text-anchor="middle" fill="#1a1a1a" stroke="#1a1a1a" stroke-width="0.25">B</text>
<text x="605.30" y="671.40" font-size="13.8" text-anchor="middle" fill="#1a1a1a" stroke="#1a1a1a" stroke-width="0.25">C</text>
<text x="632.40" y="663.20" font-size="13.8" text-anchor="middle" fill="#1a1a1a" stroke="#1a1a1a" stroke-width="0.25">BC</text>
<text x="658.50" y="592.90" font-size="13.8" text-anchor="middle" fill="#1a1a1a" stroke="#1a1a1a" stroke-width="0.25">A</text>
</g>
<text x="83.20" y="754.30" font-size="17.6" text-anchor="middle" fill="#111" stroke="#111" stroke-width="0.25">3</text>
<text x="110.90" y="754.50" font-size="17.6" text-anchor="middle" fill="#111" stroke="#111" stroke-width="0.25">4</text>
<text x="136.90" y="754.30" font-size="17.6" text-anchor="middle" fill="#111" stroke="#111" stroke-width="0.25">8</text>
<text x="165.40" y="753.70" font-size="17.6" text-anchor="middle" fill="#111" stroke="#111" stroke-width="0.25">12</text>
<text x="248.20" y="756.40" font-size="17.6" text-anchor="middle" fill="#111" stroke="#111" stroke-width="0.25">3</text>
<text x="275.50" y="756.50" font-size="17.6" text-anchor="middle" fill="#111" stroke="#111" stroke-width="0.25">4</text>
<text x="301.40" y="756.40" font-size="17.6" text-anchor="middle" fill="#111" stroke="#111" stroke-width="0.25">8</text>
<text x="329.80" y="755.10" font-size="17.6" text-anchor="middle" fill="#111" stroke="#111" stroke-width="0.25">12</text>
<text x="415.90" y="757.20" font-size="17.6" text-anchor="middle" fill="#111" stroke="#111" stroke-width="0.25">3</text>
<text x="443.40" y="757.30" font-size="17.6" text-anchor="middle" fill="#111" stroke="#111" stroke-width="0.25">4</text>
<text x="469.00" y="757.80" font-size="17.6" text-anchor="middle" fill="#111" stroke="#111" stroke-width="0.25">8</text>
<text x="497.50" y="756.40" font-size="17.6" text-anchor="middle" fill="#111" stroke="#111" stroke-width="0.25">12</text>
<text x="579.30" y="754.60" font-size="17.6" text-anchor="middle" fill="#111" stroke="#111" stroke-width="0.25">3</text>
<text x="607.00" y="754.70" font-size="17.6" text-anchor="middle" fill="#111" stroke="#111" stroke-width="0.25">4</text>
<text x="632.50" y="754.60" font-size="17.6" text-anchor="middle" fill="#111" stroke="#111" stroke-width="0.25">8</text>
<text x="661.40" y="753.70" font-size="17.6" text-anchor="middle" fill="#111" stroke="#111" stroke-width="0.25">12</text>
<text x="221.6" y="791.8" font-size="18.4" fill="#111" textLength="53.0" lengthAdjust="spacingAndGlyphs">Weeks</text>
<text x="280.0" y="791.8" font-size="18.4" fill="#111" textLength="37.2" lengthAdjust="spacingAndGlyphs">after</text>
<text x="323.4" y="791.8" font-size="18.4" fill="#111" textLength="52.6" lengthAdjust="spacingAndGlyphs">sprout</text>
<text x="381.0" y="791.8" font-size="18.4" fill="#111" textLength="89.4" lengthAdjust="spacingAndGlyphs">emergence</text>
<text x="476.4" y="791.8" font-size="18.4" fill="#111" textLength="50.0" lengthAdjust="spacingAndGlyphs">(WAE)</text>
<text transform="translate(13.8,0) rotate(-90)" x="-497.2" y="0" font-size="18.6" fill="#111" textLength="62.6" lengthAdjust="spacingAndGlyphs">Relative</text>
<text transform="translate(13.8,0) rotate(-90)" x="-429.2" y="0" font-size="18.6" fill="#111" textLength="87.2" lengthAdjust="spacingAndGlyphs">expression</text>
<text transform="translate(13.8,0) rotate(-90)" x="-336.6" y="0" font-size="18.6" fill="#111" textLength="37.6" lengthAdjust="spacingAndGlyphs">level</text>
</svg></body></html>
